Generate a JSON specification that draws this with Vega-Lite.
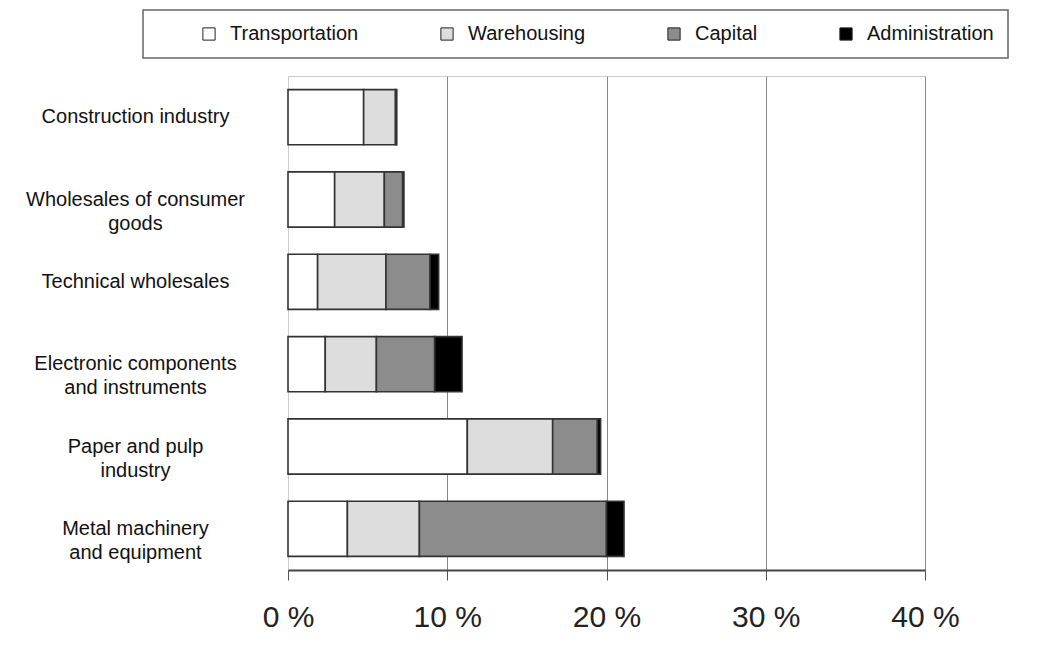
{
  "$schema": "https://vega.github.io/schema/vega-lite/v6.json",
  "width": 637,
  "height": 494,
  "autosize": "none",
  "padding": {"left": 288, "top": 76, "right": 126, "bottom": 89},
  "background": "white",
  "data": {
    "values": [
      {"industry": "Construction industry", "cost": "Transportation", "order": 1, "value": 4.75},
      {"industry": "Construction industry", "cost": "Warehousing", "order": 2, "value": 2.0},
      {"industry": "Construction industry", "cost": "Administration", "order": 4, "value": 0.08},
      {"industry": "Wholesales of consumer goods", "cost": "Transportation", "order": 1, "value": 2.93},
      {"industry": "Wholesales of consumer goods", "cost": "Warehousing", "order": 2, "value": 3.12},
      {"industry": "Wholesales of consumer goods", "cost": "Capital", "order": 3, "value": 1.15},
      {"industry": "Wholesales of consumer goods", "cost": "Administration", "order": 4, "value": 0.08},
      {"industry": "Technical wholesales", "cost": "Transportation", "order": 1, "value": 1.86},
      {"industry": "Technical wholesales", "cost": "Warehousing", "order": 2, "value": 4.29},
      {"industry": "Technical wholesales", "cost": "Capital", "order": 3, "value": 2.77},
      {"industry": "Technical wholesales", "cost": "Administration", "order": 4, "value": 0.54},
      {"industry": "Electronic components and instruments", "cost": "Transportation", "order": 1, "value": 2.34},
      {"industry": "Electronic components and instruments", "cost": "Warehousing", "order": 2, "value": 3.21},
      {"industry": "Electronic components and instruments", "cost": "Capital", "order": 3, "value": 3.66},
      {"industry": "Electronic components and instruments", "cost": "Administration", "order": 4, "value": 1.72},
      {"industry": "Paper and pulp industry", "cost": "Transportation", "order": 1, "value": 11.26},
      {"industry": "Paper and pulp industry", "cost": "Warehousing", "order": 2, "value": 5.36},
      {"industry": "Paper and pulp industry", "cost": "Capital", "order": 3, "value": 2.81},
      {"industry": "Paper and pulp industry", "cost": "Administration", "order": 4, "value": 0.2},
      {"industry": "Metal machinery and equipment", "cost": "Transportation", "order": 1, "value": 3.73},
      {"industry": "Metal machinery and equipment", "cost": "Warehousing", "order": 2, "value": 4.52},
      {"industry": "Metal machinery and equipment", "cost": "Capital", "order": 3, "value": 11.75},
      {"industry": "Metal machinery and equipment", "cost": "Administration", "order": 4, "value": 1.1}
    ]
  },
  "mark": {"type": "bar", "stroke": "#333333", "strokeWidth": 1.6},
  "encoding": {
    "y": {
      "field": "industry",
      "type": "nominal",
      "sort": ["Construction industry", "Wholesales of consumer goods", "Technical wholesales", "Electronic components and instruments", "Paper and pulp industry", "Metal machinery and equipment"],
      "scale": {"paddingInner": 0.33, "paddingOuter": 0.165},
      "axis": {
        "title": null,
        "ticks": false,
        "tickSize": 0,
        "domain": false,
        "labelAlign": "center",
        "labelBaseline": "middle",
        "labelPadding": 153,
        "labelFontSize": 20,
        "labelFont": "Liberation Sans",
        "labelColor": "#111111",
        "labelLimit": 400,
        "labelLineHeight": 24,
        "labelExpr": "datum.label === 'Wholesales of consumer goods' ? ['Wholesales of consumer', 'goods'] : datum.label === 'Electronic components and instruments' ? ['Electronic components', 'and instruments'] : datum.label === 'Paper and pulp industry' ? ['Paper and pulp', 'industry'] : datum.label === 'Metal machinery and equipment' ? ['Metal machinery', 'and equipment'] : datum.label"
      }
    },
    "x": {
      "field": "value",
      "type": "quantitative",
      "stack": "zero",
      "scale": {"domain": [0, 40], "nice": false},
      "axis": {
        "title": null,
        "values": [0, 10, 20, 30, 40],
        "labelExpr": "datum.value + ' %'",
        "labelFlush": false,
        "labelOverlap": false,
        "labelFontSize": 30,
        "labelFont": "Liberation Sans",
        "labelColor": "#222222",
        "labelPadding": 22,
        "tickSize": 10,
        "tickColor": "#555555",
        "domainColor": "#444444",
        "domainWidth": 2,
        "grid": true,
        "gridColor": {"condition": {"test": "datum.value === 0", "value": "#cccccc"}, "value": "#888888"},
        "gridWidth": 1
      }
    },
    "color": {
      "field": "cost",
      "type": "nominal",
      "scale": {"domain": ["Transportation", "Warehousing", "Capital", "Administration"], "range": ["#ffffff", "#dddddd", "#8c8c8c", "#000000"]},
      "legend": {
        "orient": "none",
        "legendX": -145,
        "legendY": -66,
        "direction": "horizontal",
        "title": " ",
        "titleOrient": "left",
        "titlePadding": 42,
        "padding": 14,
        "strokeColor": "#666666",
        "fillColor": "#ffffff",
        "symbolType": "square",
        "symbolSize": 150,
        "symbolStrokeColor": "#222222",
        "symbolStrokeWidth": 1,
        "symbolOpacity": 1,
        "labelFontSize": 20,
        "labelFont": "Liberation Sans",
        "labelColor": "#111111",
        "labelOffset": 11,
        "columnPadding": 78
      }
    },
    "order": {"field": "order", "type": "quantitative"}
  },
  "config": {"view": {"stroke": "#cccccc"}, "legend": {"strokeWidth": 1.5}}
}
